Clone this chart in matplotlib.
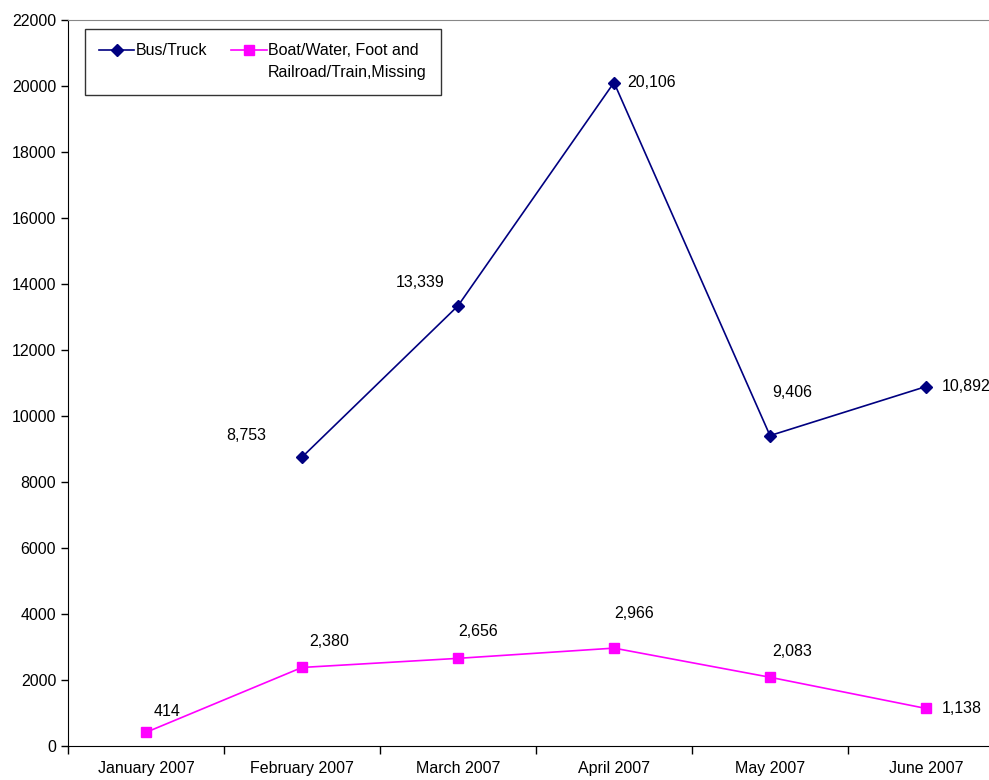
import numpy as np
import matplotlib.pyplot as plt
from matplotlib.legend_handler import HandlerLine2D

plt.rcParams['font.family'] = ['Liberation Sans', 'DejaVu Sans']

months = ["January 2007", "February 2007", "March 2007", "April 2007", "May 2007", "June 2007"]
bus_truck = [np.nan, 8753, 13339, 20106, 9406, 10892]
boat_other = [414, 2380, 2656, 2966, 2083, 1138]
legend_labels = ["Bus/Truck\n", "Boat/Water, Foot and\nRailroad/Train,Missing"]

# label offsets in pixels (dx, dy) from each point
bus_offsets = [None, (-56, 22), (-38, 23), (38, 0), (22, 43), (40, 0)]
boat_offsets = [(21, 21), (27, 26), (20, 27), (20, 35), (22, 26), (36, 0)]


class TopLineHandler(HandlerLine2D):
    # put the legend key level with the first line of a wrapped label
    def __init__(self, shift=0, **kw):
        super().__init__(**kw)
        self.shift = shift

    def create_artists(self, legend, orig_handle, xdescent, ydescent,
                       width, height, fontsize, trans):
        arts = super().create_artists(legend, orig_handle, xdescent, ydescent,
                                      width, height, fontsize, trans)
        for a in arts:
            a.set_ydata(np.asarray(a.get_ydata()) + self.shift)
        return arts


fig = plt.figure(figsize=(9.89, 7.80), dpi=100)
W, H = 989, 780
ax = fig.add_axes([68 / W, 34 / H, 936 / W, 726 / H])

x = np.arange(len(months))
l1, = ax.plot(x, bus_truck, color="#000080", marker="D", markersize=6, linewidth=1.2)
l2, = ax.plot(x, boat_other, color="#FF00FF", marker="s", markersize=7, linewidth=1.2)

for xi, v, off in zip(x, bus_truck, bus_offsets):
    if off is None or np.isnan(v):
        continue
    ax.annotate(f"{v:,.0f}", (xi, v), xytext=off, textcoords="offset pixels",
                ha="center", va="center", fontsize=11.5)
for xi, v, off in zip(x, boat_other, boat_offsets):
    ax.annotate(f"{v:,.0f}", (xi, v), xytext=off, textcoords="offset pixels",
                ha="center", va="center", fontsize=11.5)

ax.set_xlim(-0.5, len(months) - 0.5)
ax.set_ylim(0, 22000)
ax.set_yticks(range(0, 22001, 2000))
ax.tick_params(axis="y", labelsize=11.5, length=5, width=1, direction="out")

ax.set_xticks(x)
ax.set_xticklabels(months)
ax.set_xticks(np.arange(-0.5, len(months)), minor=True)
ax.tick_params(axis="x", which="major", length=0, labelsize=11.5, pad=11)
ax.tick_params(axis="x", which="minor", length=6, width=1, direction="out")

ax.spines["top"].set_color("#888888")
ax.spines["right"].set_visible(False)
ax.spines["left"].set_color("black")
ax.spines["bottom"].set_color("black")

leg = ax.legend([l1, l2], legend_labels, ncol=2, loc="upper left",
                bbox_to_anchor=(0.018, 0.988),
                borderaxespad=0, fontsize=11.5, frameon=True, fancybox=False,
                handlelength=2.2, handletextpad=0.1, columnspacing=1.5,
                borderpad=0.9,
                handler_map={l1: TopLineHandler(shift=9),
                             l2: TopLineHandler(shift=9)})
for t in leg.get_texts():
    t.set_linespacing(1.6)
leg.get_frame().set_edgecolor("black")
leg.get_frame().set_linewidth(1)

fig.savefig("out.png", dpi=100)
